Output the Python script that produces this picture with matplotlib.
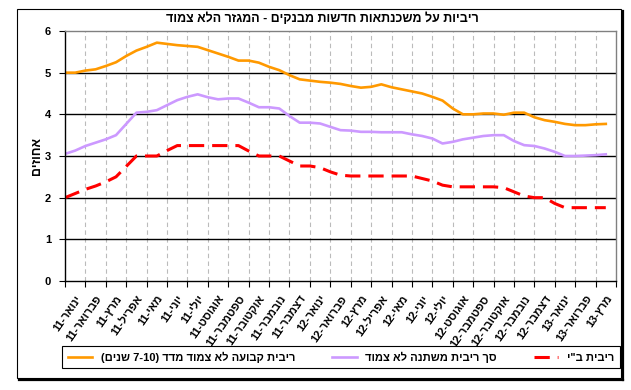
import re
import numpy as np
import matplotlib
matplotlib.use("Agg")
import matplotlib.pyplot as plt
from matplotlib.patches import Rectangle
from matplotlib.lines import Line2D

plt.rcParams['font.family'] = ['Liberation Sans', 'DejaVu Sans']
plt.rcParams['font.weight'] = 'bold'

# semi-monthly readings, Jan 2011 .. mid Mar 2013
fixed_rate = [5.00, 5.00, 5.05, 5.08, 5.16, 5.25, 5.40, 5.53, 5.62, 5.72,
              5.69, 5.66, 5.64, 5.62, 5.54, 5.46, 5.38, 5.29, 5.29, 5.24,
              5.14, 5.06, 4.94, 4.84, 4.81, 4.78, 4.76, 4.73, 4.68, 4.64,
              4.66, 4.72, 4.65, 4.60, 4.55, 4.50, 4.42, 4.33, 4.14, 4.00,
              4.00, 4.02, 4.02, 3.99, 4.04, 4.04, 3.93, 3.86, 3.82, 3.77,
              3.74, 3.74, 3.76, 3.77]
variable_rate = [3.05, 3.13, 3.24, 3.32, 3.40, 3.50, 3.77, 4.04, 4.06, 4.10,
                 4.22, 4.34, 4.42, 4.48, 4.41, 4.36, 4.38, 4.38, 4.28, 4.17,
                 4.17, 4.14, 3.96, 3.80, 3.80, 3.78, 3.70, 3.62, 3.61, 3.58,
                 3.58, 3.57, 3.57, 3.57, 3.52, 3.48, 3.42, 3.30, 3.34, 3.40,
                 3.44, 3.48, 3.50, 3.50, 3.36, 3.26, 3.24, 3.18, 3.10, 3.00,
                 3.00, 3.01, 3.02, 3.04]
boi_rate = [2.00, 2.10, 2.20, 2.28, 2.38, 2.50, 2.75, 3.00, 3.00, 3.00,
            3.13, 3.25, 3.25, 3.25, 3.25, 3.25, 3.25, 3.25, 3.12, 3.00,
            3.00, 3.00, 2.88, 2.76, 2.76, 2.72, 2.62, 2.54, 2.52, 2.52,
            2.52, 2.52, 2.52, 2.52, 2.52, 2.46, 2.40, 2.30, 2.26, 2.26,
            2.26, 2.26, 2.26, 2.24, 2.14, 2.04, 2.00, 2.00, 1.86, 1.76,
            1.76, 1.76, 1.76, 1.76]

months = ["ינואר", "פברואר", "מרץ", "אפריל", "מאי", "יוני", "יולי",
          "אוגוסט", "ספטמבר", "אוקטובר", "נובמבר", "דצמבר"]
month_labels = [f"{months[i % 12]}-{11 + i // 12}" for i in range(27)]

title = "ריביות על משכנתאות חדשות מבנקים - המגזר הלא צמוד"
ylabel = "אחוזים"
series_names = ["ריבית קבועה לא צמוד מדד (7-10 שנים)",
                "סך ריבית משתנה לא צמוד",
                'ריבית ב"י']


def vis(s):
    # crude bidi for rtl text: reverse, keep numbers ltr, mirror brackets
    toks = re.findall(r'[0-9][0-9\-\.]*[0-9]|.', s)
    mirror = {'(': ')', ')': '('}
    return ''.join(mirror.get(t, t) for t in toks[::-1])


W, H = 631, 390
fig = plt.figure(figsize=(W / 100, H / 100), dpi=100)

# outer chart frame with shadow
fig.patches.append(Rectangle((17 / W, 1 - 378 / H), 604 / W, 369 / H,
                             transform=fig.transFigure, fill=False,
                             edgecolor='black', lw=0.8))
fig.lines.append(Line2D([622.5 / W, 622.5 / W], [1 - 380 / H, 1 - 11 / H],
                        transform=fig.transFigure, color='black', lw=1.6))
fig.lines.append(Line2D([19 / W, 623 / W], [1 - 379.5 / H, 1 - 379.5 / H],
                        transform=fig.transFigure, color='black', lw=1.6))

ax = fig.add_axes([65 / W, 1 - 281 / H, 551 / W, 250 / H])
x = np.arange(len(fixed_rate)) * 0.5

ax.plot(x, fixed_rate, color='#FF9900', lw=1.9, label=vis(series_names[0]))
ax.plot(x, variable_rate, color='#CC99FF', lw=1.9, label=vis(series_names[1]))
ax.plot(x, boi_rate, color='#FF0000', lw=2.2, dashes=(5, 2.6),
        label=vis(series_names[2]))

ax.set_xlim(0, 27)
ax.set_ylim(0, 6)
ax.set_yticks(range(0, 7))
ax.set_yticklabels([str(v) for v in range(0, 7)], fontsize=8, fontweight='bold')
ax.set_xticks(range(0, 28))
ax.set_xticklabels([])
ax.set_xticks(np.arange(27) + 0.5, minor=True)
ax.set_xticklabels([vis(m) for m in month_labels], minor=True, rotation=55,
                   ha='right', va='top', rotation_mode='anchor',
                   fontsize=8, fontweight='bold')
ax.tick_params(axis='x', which='minor', length=0, pad=9)
ax.tick_params(axis='x', which='major', length=4, direction='out', color='black')
ax.tick_params(axis='y', length=4, direction='out', pad=6)

for v in range(1, 6):
    ax.axhline(v, color='black', lw=1.0, zorder=1)
for m in range(1, 27):
    ax.axvline(m, color='#BBBBBB', lw=0.8, ls=(0, (4, 3)), zorder=0)

ax.spines['top'].set_color('#808080')
ax.spines['right'].set_color('#808080')
ax.spines['left'].set_color('black')
ax.spines['bottom'].set_color('black')
for sp in ax.spines.values():
    sp.set_linewidth(1.0)

ax.set_ylabel(vis(ylabel), fontsize=9, fontweight='bold', labelpad=1)
fig.text(322 / W, 1 - 19 / H, vis(title), ha='center', va='center',
         fontsize=9, fontweight='bold')

leg = fig.legend(loc='center', ncol=3, mode='expand',
                 bbox_to_anchor=(62 / W, 1 - 370 / H, 558 / W, 26 / H),
                 fancybox=False, edgecolor='black', framealpha=1,
                 prop={'size': 8, 'weight': 'bold'}, handlelength=2.2,
                 borderaxespad=0, borderpad=0.5)
leg.get_frame().set_linewidth(0.8)

fig.savefig("out.png", dpi=100)
